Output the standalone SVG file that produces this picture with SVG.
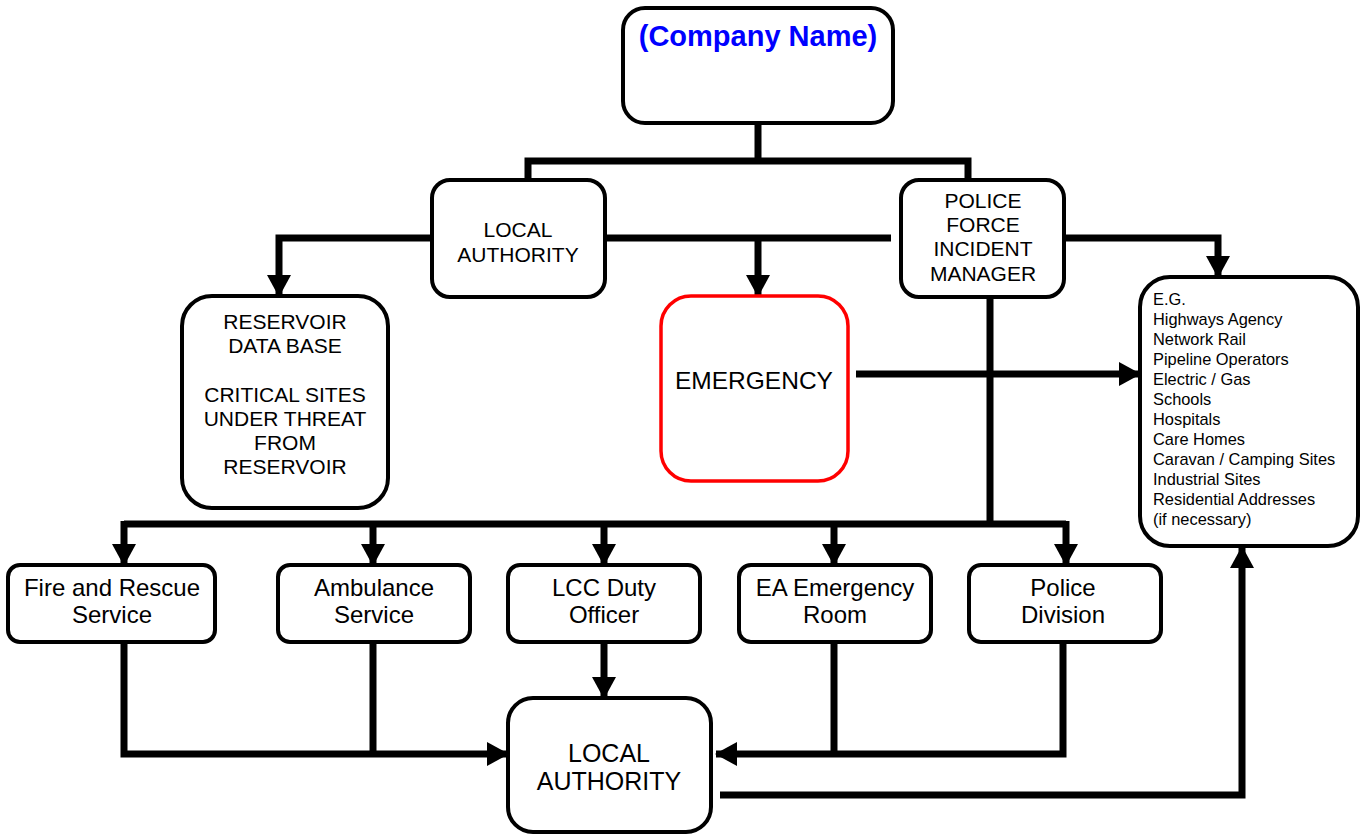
<svg xmlns="http://www.w3.org/2000/svg" width="1364" height="834" viewBox="0 0 1364 834">
<style>
.box{fill:#fff;stroke:#000;stroke-width:4}
.red{fill:#fff;stroke:#f00;stroke-width:3.5}
.t{font-family:"Liberation Sans",Arial,sans-serif;fill:#000;text-anchor:middle}
.l{font-family:"Liberation Sans",Arial,sans-serif;fill:#000;font-size:16.4px}
.c{fill:none;stroke:#000;stroke-width:7;stroke-linejoin:miter;stroke-linecap:butt}
.a{marker-end:url(#ah)}
</style>
<defs>
<marker id="ah" markerUnits="userSpaceOnUse" markerWidth="22" markerHeight="24" viewBox="0 0 22 24" refX="21" refY="12" orient="auto">
<path d="M0,0 L22,12 L0,24 z" fill="#000"/>
</marker>
</defs>
<g id="connectors">
<path class="c" d="M758,123 V161"/>
<path class="c" d="M528,180 V161 H968 V180"/>
<path class="c a" d="M432,238 H279 V296"/>
<path class="c" d="M605,238 H891"/>
<path class="c a" d="M758,238 V296"/>
<path class="c a" d="M1064,238 H1218 V277"/>
<path class="c a" d="M856,374 H1140"/>
<path class="c" d="M990,297 V524"/>
<path class="c" d="M124,524 H1066"/>
<path class="c a" d="M124,521 V565"/>
<path class="c a" d="M373,521 V565"/>
<path class="c a" d="M604,521 V565"/>
<path class="c a" d="M834,521 V565"/>
<path class="c a" d="M1066,521 V565"/>
<path class="c a" d="M124,642 V754 H508"/>
<path class="c" d="M373,642 V754"/>
<path class="c a" d="M604,642 V698"/>
<path class="c a" d="M1063,642 V754 H716"/>
<path class="c" d="M834,642 V754"/>
<path class="c a" d="M720,795 H1242 V547"/>
</g>
<g id="company">
<rect class="box" x="623" y="8" width="270" height="115" rx="22"/>
<text class="t" x="758" y="46" font-size="29" font-weight="bold" style="fill:#0000ff">(Company Name)</text>
</g>
<g id="local-authority-top">
<rect class="box" x="432" y="180" width="173" height="117" rx="18"/>
<text class="t" x="518" y="237" font-size="21">LOCAL</text>
<text class="t" x="518" y="262" font-size="21">AUTHORITY</text>
</g>
<g id="police-force">
<rect class="box" x="901" y="180" width="163" height="117" rx="18"/>
<text class="t" x="983" y="208" font-size="21">POLICE</text>
<text class="t" x="983" y="232" font-size="21">FORCE</text>
<text class="t" x="983" y="256" font-size="21">INCIDENT</text>
<text class="t" x="983" y="281" font-size="21">MANAGER</text>
</g>
<g id="reservoir">
<rect class="box" x="182" y="296" width="206" height="212" rx="30"/>
<text class="t" x="285" y="329" font-size="21">RESERVOIR</text>
<text class="t" x="285" y="353" font-size="21">DATA BASE</text>
<text class="t" x="285" y="402" font-size="21">CRITICAL SITES</text>
<text class="t" x="285" y="426" font-size="21">UNDER THREAT</text>
<text class="t" x="285" y="450" font-size="21">FROM</text>
<text class="t" x="285" y="474" font-size="21">RESERVOIR</text>
</g>
<g id="emergency">
<rect class="red" x="661" y="296" width="187" height="185" rx="30"/>
<text class="t" x="754" y="389" font-size="24.5">EMERGENCY</text>
</g>
<g id="eg-list">
<rect class="box" x="1140" y="277" width="218" height="269" rx="30"/>
<text class="l" x="1153" y="305">E.G.</text>
<text class="l" x="1153" y="325">Highways Agency</text>
<text class="l" x="1153" y="345">Network Rail</text>
<text class="l" x="1153" y="365">Pipeline Operators</text>
<text class="l" x="1153" y="385">Electric / Gas</text>
<text class="l" x="1153" y="405">Schools</text>
<text class="l" x="1153" y="425">Hospitals</text>
<text class="l" x="1153" y="445">Care Homes</text>
<text class="l" x="1153" y="465">Caravan / Camping Sites</text>
<text class="l" x="1153" y="485">Industrial Sites</text>
<text class="l" x="1153" y="505">Residential Addresses</text>
<text class="l" x="1153" y="525">(if necessary)</text>
</g>
<g id="fire">
<rect class="box" x="8" y="565" width="207" height="77" rx="12"/>
<text class="t" x="112" y="596" font-size="24">Fire and Rescue</text>
<text class="t" x="112" y="623" font-size="24">Service</text>
</g>
<g id="ambulance">
<rect class="box" x="278" y="565" width="192" height="77" rx="12"/>
<text class="t" x="374" y="596" font-size="24">Ambulance</text>
<text class="t" x="374" y="623" font-size="24">Service</text>
</g>
<g id="lcc">
<rect class="box" x="508" y="565" width="192" height="77" rx="12"/>
<text class="t" x="604" y="596" font-size="24">LCC Duty</text>
<text class="t" x="604" y="623" font-size="24">Officer</text>
</g>
<g id="ea">
<rect class="box" x="739" y="565" width="192" height="77" rx="12"/>
<text class="t" x="835" y="596" font-size="24">EA Emergency</text>
<text class="t" x="835" y="623" font-size="24">Room</text>
</g>
<g id="police-division">
<rect class="box" x="969" y="565" width="192" height="77" rx="12"/>
<text class="t" x="1063" y="596" font-size="24">Police</text>
<text class="t" x="1063" y="623" font-size="24">Division</text>
</g>
<g id="local-authority-bottom">
<rect class="box" x="508" y="698" width="203" height="134" rx="25"/>
<text class="t" x="609" y="762" font-size="25">LOCAL</text>
<text class="t" x="609" y="790" font-size="25">AUTHORITY</text>
</g>
</svg>
